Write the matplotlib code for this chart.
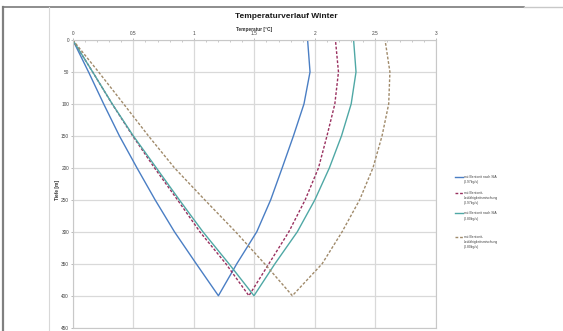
import matplotlib
matplotlib.use("Agg")
import matplotlib.pyplot as plt
from matplotlib.lines import Line2D

plt.rcParams['font.family'] = ['Liberation Sans', 'DejaVu Sans']

# depth points: down the probe to 400 m and back up
depth = [0, 50, 100, 150, 200, 250, 300, 350, 400, 350, 300, 250, 200, 150, 100, 50, 0]

temp_sia_097 = [0, 0.13, 0.255, 0.385, 0.53, 0.68, 0.84, 1.02, 1.203,
                1.355, 1.52, 1.635, 1.73, 1.823, 1.91, 1.96, 1.94]
temp_mix_097 = [0, 0.164, 0.325, 0.495, 0.675, 0.865, 1.05, 1.265, 1.455,
                1.62, 1.785, 1.92, 2.03, 2.10, 2.165, 2.195, 2.17]
temp_sia_080 = [0, 0.164, 0.326, 0.50, 0.69, 0.88, 1.075, 1.29, 1.497,
                1.67, 1.855, 2.00, 2.12, 2.22, 2.30, 2.34, 2.32]
temp_mix_080 = [0, 0.213, 0.42, 0.625, 0.84, 1.09, 1.345, 1.585, 1.814,
                2.06, 2.225, 2.37, 2.48, 2.555, 2.61, 2.62, 2.58]

labels = ["mit Bentonit nach SIA\n(0.97kg/s)",
          "mit Bentonit-\nLeitfähigkeitsmischung\n(0.97kg/s)",
          "mit Bentonit nach SIA\n(0.80kg/s)",
          "mit Bentonit-\nLeitfähigkeitsmischung\n(0.80kg/s)"]

x_ticks = [0, 0.5, 1, 1.5, 2, 2.5, 3]
x_tick_labels = ["0", "0.5", "1", "1.5", "2", "2.5", "3"]
y_ticks = [0, 50, 100, 150, 200, 250, 300, 350, 400, 450]

W, H = 563, 331
fig = plt.figure(figsize=(W / 100, H / 100), dpi=100)
fig.patch.set_facecolor("white")

# outer chart frame
fig.add_artist(Line2D([3 / W, 3 / W], [0, 1 - 7 / H], transform=fig.transFigure, color="#808080", lw=1.6))
fig.add_artist(Line2D([3 / W, 524 / W], [1 - 7 / H, 1 - 7 / H], transform=fig.transFigure, color="#7a7a7a", lw=1.2))
fig.add_artist(Line2D([524 / W, 1], [1 - 7 / H, 1 - 7 / H], transform=fig.transFigure, color="#c8c8c8", lw=1.0))
fig.add_artist(Line2D([49 / W, 49 / W], [0, 1 - 7 / H], transform=fig.transFigure, color="#d8d8d8", lw=0.8))

left, right, top, bottom = 72.8, 435.9, 40, 327.7
ax = fig.add_axes([left / W, 1 - bottom / H, (right - left) / W, (bottom - top) / H])

styles = [
    dict(color="#4a7ec4", lw=1.0, linestyle="-"),
    dict(color="#99305f", lw=1.0, linestyle=(0, (2.0, 1.3))),
    dict(color="#4fa8a5", lw=1.0, linestyle="-"),
    dict(color="#a08a6a", lw=1.0, linestyle=(0, (2.0, 1.3))),
]
series = [temp_sia_097, temp_mix_097, temp_sia_080, temp_mix_080]
for temps, st in zip(series, styles):
    ax.plot(temps, depth, **st)

ax.set_xlim(0, 3)
ax.set_ylim(450, 0)
ax.xaxis.tick_top()
ax.set_xticks(x_ticks)
ax.set_xticklabels(x_tick_labels)
ax.set_xticks([i / 10 for i in range(31)], minor=True)
ax.set_yticks(y_ticks)
ax.tick_params(axis="both", which="major", labelsize=3.4, labelcolor="#404040", length=1.5, width=0.5, color="#a0a0a0", pad=1.2)
ax.tick_params(axis="x", which="minor", direction="in", length=1.5, width=0.5, color="#b0b0b0")
ax.tick_params(axis="y", which="minor", length=0)
ax.grid(True, which="major", color="#d9d9d9", lw=0.9)
for s in ax.spines.values():
    s.set_color("#c8c8c8")
    s.set_linewidth(0.8)
ax.set_axisbelow(True)

fig.text(286 / W, 1 - 16.6 / H, "Temperaturverlauf Winter", ha="center", va="center",
         fontsize=6.0, fontweight="bold", color="#1a1a1a")
fig.text(254 / W, 1 - 29.5 / H, "Temperatur [°C]", ha="center", va="center",
         fontsize=3.4, fontweight="bold", color="#303030")
fig.text(57 / W, 1 - 190 / H, "Tiefe [m]", ha="center", va="center", rotation=90,
         fontsize=3.4, fontweight="bold", color="#303030")

# legend drawn at the right, line aligned with first text line
legend_y = [176.7, 192.7, 213.3, 236.7]
for lab, st, ly in zip(labels, styles, legend_y):
    fig.add_artist(Line2D([455 / W, 463 / W], [1 - ly / H, 1 - ly / H], transform=fig.transFigure, **st))
    fig.text(463.5 / W, 1 - (ly - 1.8) / H, lab, ha="left", va="top", fontsize=2.4,
             color="#404040", linespacing=1.4)

fig.savefig("out.png", dpi=100)
